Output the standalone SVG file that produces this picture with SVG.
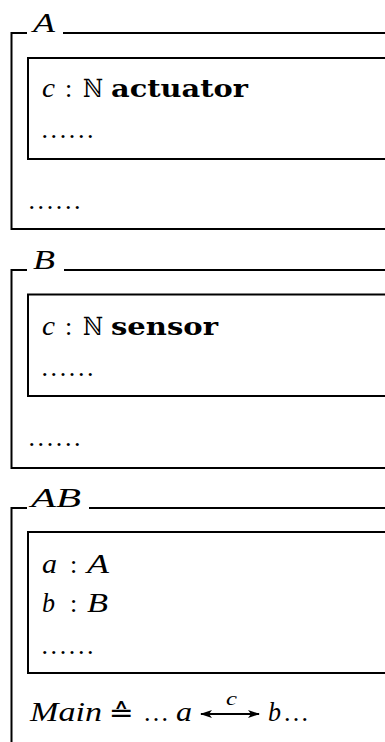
<svg xmlns="http://www.w3.org/2000/svg" width="385" height="742" viewBox="0 0 385 742">
  <style>
    .frame { fill: none; stroke: #000; stroke-width: 2; }
    text { fill: #000; }
    .rm { font-family: 'Liberation Serif', serif; font-size: 26px; }
    .mi { font-family: 'Liberation Serif', serif; font-size: 28px; font-style: italic; }
    .bf { font-family: 'DejaVu Serif', serif; font-size: 25px; font-weight: bold; }
    .bb { font-family: 'DejaVu Serif', 'DejaVu Sans', serif; font-size: 25px; }
  </style>
  <defs>
    <marker id="head" viewBox="0 0 12 8" refX="11" refY="4" markerWidth="12" markerHeight="8" markerUnits="userSpaceOnUse" orient="auto-start-reverse">
      <path d="M0,0 L12,4 L0,8 L3,4 Z" fill="#000"/>
    </marker>
  </defs>
  <rect width="385" height="742" fill="#fff"/>

  <!-- schema A -->
  <g id="schema-A">
    <path class="frame" d="M385,33 H63 M27,33 H11.5 V229 H385"/>
    <text class="mi" x="33" y="32" textLength="22" lengthAdjust="spacingAndGlyphs">A</text>
    <g id="schema-A-decl">
      <path class="frame" d="M385,58 H28 V159 H385"/>
      <text class="mi" x="42" y="97" textLength="13" lengthAdjust="spacingAndGlyphs">c</text>
      <text class="rm" x="65" y="97">:</text>
      <text class="bb" x="83" y="97" textLength="20" lengthAdjust="spacingAndGlyphs">ℕ</text>
      <text class="bf" x="111" y="97" textLength="137" lengthAdjust="spacingAndGlyphs">actuator</text>
      <text class="rm" x="41.5" y="138" letter-spacing="2.6">......</text>
    </g>
    <text class="rm" x="28.5" y="209" letter-spacing="2.6">......</text>
  </g>

  <!-- schema B -->
  <g id="schema-B">
    <path class="frame" d="M385,270 H64 M27,270 H11.5 V468 H385"/>
    <text class="mi" x="33" y="269" textLength="22" lengthAdjust="spacingAndGlyphs">B</text>
    <g id="schema-B-decl">
      <path class="frame" d="M385,294.5 H28 V396 H385"/>
      <text class="mi" x="42" y="335" textLength="13" lengthAdjust="spacingAndGlyphs">c</text>
      <text class="rm" x="65" y="335">:</text>
      <text class="bb" x="83" y="335" textLength="20" lengthAdjust="spacingAndGlyphs">ℕ</text>
      <text class="bf" x="111" y="335" textLength="107" lengthAdjust="spacingAndGlyphs">sensor</text>
      <text class="rm" x="41.5" y="375.5" letter-spacing="2.6">......</text>
    </g>
    <text class="rm" x="28.5" y="446" letter-spacing="2.6">......</text>
  </g>

  <!-- schema AB -->
  <g id="schema-AB">
    <path class="frame" d="M385,508 H89 M27,508 H11.5 V742"/>
    <text class="mi" x="31" y="507" textLength="50" lengthAdjust="spacingAndGlyphs">AB</text>
    <g id="schema-AB-decl">
      <path class="frame" d="M385,532 H28 V673 H385"/>
      <text class="mi" x="42" y="573" textLength="15" lengthAdjust="spacingAndGlyphs">a</text>
      <text class="rm" x="70" y="573">:</text>
      <text class="mi" x="87" y="573" textLength="22" lengthAdjust="spacingAndGlyphs">A</text>
      <text class="mi" x="42" y="612" textLength="13" lengthAdjust="spacingAndGlyphs">b</text>
      <text class="rm" x="70" y="612">:</text>
      <text class="mi" x="87" y="612" textLength="21" lengthAdjust="spacingAndGlyphs">B</text>
      <text class="rm" x="41.5" y="653.5" letter-spacing="2.6">......</text>
    </g>
    <g id="main-def">
      <text class="mi" x="30" y="721" textLength="72" lengthAdjust="spacingAndGlyphs">Main</text>
      <text class="bb" x="109" y="721" textLength="25" lengthAdjust="spacingAndGlyphs">≙</text>
      <text class="rm" x="144" y="721" letter-spacing="2.2">...</text>
      <text class="mi" x="176" y="721" textLength="16" lengthAdjust="spacingAndGlyphs">a</text>
      <text class="mi" x="268" y="721" textLength="13" lengthAdjust="spacingAndGlyphs">b</text>
      <text class="rm" x="284" y="721" letter-spacing="2.2">...</text>
    </g>
  </g>

  <!-- channel c between a and b -->
  <g id="connectors">
    <line x1="201" y1="714" x2="259" y2="714" stroke="#000" stroke-width="2" marker-start="url(#head)" marker-end="url(#head)"/>
    <text class="mi" style="font-size:19px" x="226" y="705" textLength="11" lengthAdjust="spacingAndGlyphs">c</text>
  </g>
</svg>
